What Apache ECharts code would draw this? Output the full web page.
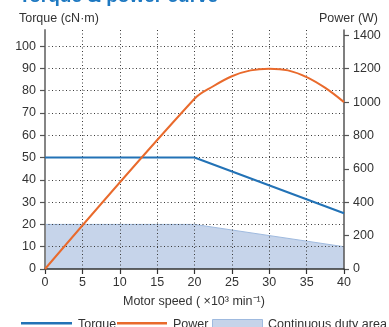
<!DOCTYPE html>
<html>
<head>
<meta charset="utf-8">
<script src="https://cdn.jsdelivr.net/npm/echarts@6/dist/echarts.min.js"></script>
<style>
  html, body { margin: 0; padding: 0; background: #fff; }
  #chart { width: 389px; height: 327px; }
</style>
</head>
<body>
<div id="chart"></div>
<script>
// Motor speed (x10^3 min^-1) sample points for each curve
const torqueSpeed = [0, 20, 40];
const torqueValues = [50, 50, 25];          // cN·m

const powerSpeed = [0, 20, 22.5, 25, 27.5, 30, 32.5, 35, 37.5, 40];
const powerValues = [0, 1020, 1095, 1155, 1190, 1200, 1190, 1150, 1085, 1000]; // W

const dutySpeed = [0, 20, 40];
const dutyValues = [20, 20, 10];            // cN·m

const speedTicks = [0, 5, 10, 15, 20, 25, 30, 35, 40];
const torqueTicks = [0, 10, 20, 30, 40, 50, 60, 70, 80, 90, 100];
const powerTicks = [0, 200, 400, 600, 800, 1000, 1200, 1400];

const pairs = (xs, ys) => xs.map((x, i) => [x, ys[i]]);
const plain = v => String(v);

const FONT = '"Liberation Sans", Arial, sans-serif';
const BLUE = '#2272b6';
const ORANGE = '#e96a2c';
const AREA = '#c6d4ea';
const AREA_EDGE = '#9fbadf';
const DOTS = { color: '#3a3a3a', width: 1, type: [1, 2.5] };

const chart = echarts.init(document.getElementById('chart'), null, { renderer: 'canvas' });

chart.setOption({
  animation: false,
  backgroundColor: '#fff',
  grid: { left: 45, right: 45, top: 30, bottom: 58, containLabel: false },
  xAxis: {
    type: 'value', min: 0, max: 40, interval: 5, z: 3,
    axisLine: { lineStyle: { color: '#333', width: 1.5 } },
    axisTick: { show: true, inside: false, length: 5, lineStyle: { color: '#333', width: 1.2 } },
    axisLabel: { color: '#333', fontSize: 12.5, fontFamily: FONT, margin: 7,
                 customValues: speedTicks, formatter: plain },
    splitLine: { show: true, lineStyle: DOTS,
                 showMinLine: false, showMaxLine: false }
  },
  yAxis: [
    {
      type: 'value', min: 0, max: 107.2, interval: 10, position: 'left', z: 3,
      axisLine: { show: true, lineStyle: { color: '#858585', width: 2 } },
      axisTick: { show: true, length: 5, customValues: torqueTicks,
                  lineStyle: { color: '#555', width: 1.2 } },
      axisLabel: { color: '#333', fontSize: 12.5, fontFamily: FONT, margin: 9,
                   customValues: torqueTicks, formatter: plain },
      splitLine: { show: true, lineStyle: DOTS, showMinLine: false }
    },
    {
      type: 'value', min: 0, max: 1432, interval: 200, position: 'right', z: 3,
      axisLine: { show: true, lineStyle: { color: '#555', width: 1.5 } },
      axisTick: { show: true, length: 5, customValues: powerTicks,
                  lineStyle: { color: '#555', width: 1.2 } },
      axisLabel: { color: '#333', fontSize: 12.5, fontFamily: FONT, margin: 9,
                   customValues: powerTicks, formatter: plain },
      splitLine: { show: false }
    }
  ],
  series: [
    {
      name: 'Continuous duty area', type: 'line', yAxisIndex: 0, z: 1,
      data: pairs(dutySpeed, dutyValues), symbol: 'none',
      lineStyle: { color: AREA_EDGE, width: 1 },
      areaStyle: { color: AREA, opacity: 1 }
    },
    {
      name: 'Torque', type: 'line', yAxisIndex: 0, z: 5,
      data: pairs(torqueSpeed, torqueValues), symbol: 'none',
      lineStyle: { color: BLUE, width: 2 }
    },
    {
      name: 'Power', type: 'line', yAxisIndex: 1, z: 5,
      data: pairs(powerSpeed, powerValues), symbol: 'none', smooth: 0.35,
      lineStyle: { color: ORANGE, width: 2 }
    }
  ],
  graphic: [
    { type: 'text', left: 19, top: -13, z: 10,
      style: { text: 'Torque & power curve', fill: '#1d78c1', font: 'bold 19px ' + FONT } },
    { type: 'text', left: 19, top: 12, z: 10,
      style: { text: 'Torque (cN\u00b7m)', fill: '#333', font: '12.5px ' + FONT } },
    { type: 'text', right: 11, top: 12, z: 10,
      style: { text: 'Power (W)', fill: '#333', font: '12.5px ' + FONT } },
    { type: 'text', left: 123, top: 295, z: 10,
      style: { text: 'Motor speed ( \u00d710\u00b3 min\u207b\u00b9)', fill: '#333', font: '12.5px ' + FONT } },
    // legend
    { type: 'rect', shape: { x: 21, y: 322, width: 51, height: 2.5 }, style: { fill: BLUE } },
    { type: 'text', left: 78, top: 318,
      style: { text: 'Torque', fill: '#333', font: '12.5px ' + FONT } },
    { type: 'rect', shape: { x: 117, y: 322, width: 50, height: 2.5 }, style: { fill: ORANGE } },
    { type: 'text', left: 173, top: 318,
      style: { text: 'Power', fill: '#333', font: '12.5px ' + FONT } },
    { type: 'rect', shape: { x: 212.5, y: 319.5, width: 50, height: 16 },
      style: { fill: AREA, stroke: AREA_EDGE, lineWidth: 1 } },
    { type: 'text', left: 268, top: 318,
      style: { text: 'Continuous duty area', fill: '#333', font: '12.5px ' + FONT } }
  ]
});
</script>
</body>
</html>
